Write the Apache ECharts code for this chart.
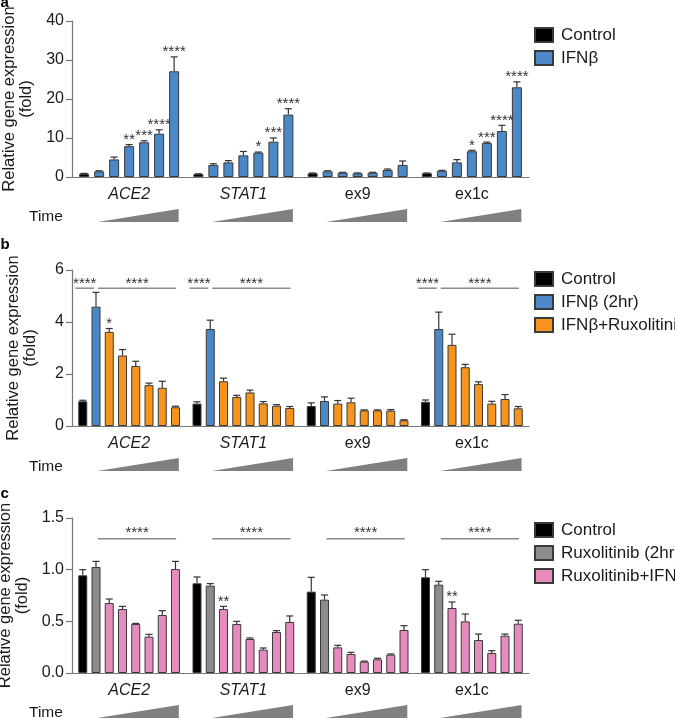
<!DOCTYPE html>
<html><head><meta charset="utf-8">
<script src="https://cdn.jsdelivr.net/npm/echarts@6/dist/echarts.min.js"></script>
<style>html,body{margin:0;padding:0;background:#fff}#c{width:675px;height:721px}</style>
</head><body><div id="c"></div>
<script>
// ---------------- DATA ----------------
const genes = ['ACE2', 'STAT1', 'ex9', 'ex1c'];
const geneItalic = [true, true, false, false];

// Panel a
const aControl    = [0.85, 0.75, 0.95, 0.95];
const aControlErr = [0.08, 0.08, 0.08, 0.08];
const aIFN = [
  [1.45, 4.5, 7.9, 8.9, 11.1, 27.1],
  [3.1, 3.75, 5.55, 6.25, 9.05, 16.0],
  [1.45, 1.1, 0.95, 1.1, 1.8, 3.1],
  [1.6, 3.75, 6.6, 8.7, 11.8, 23.0]
];
const aIFNErr = [
  [0.15, 0.6, 0.4, 0.4, 1.0, 3.7],
  [0.3, 0.45, 1.0, 0.15, 0.95, 1.5],
  [0.15, 0.1, 0.1, 0.1, 0.25, 1.0],
  [0.1, 0.7, 0.25, 0.25, 1.45, 1.4]
];
const aIFNStars = [
  ['', '', '**', '***', '****', '****'],
  ['', '', '', '*', '***', '****'],
  ['', '', '', '', '', ''],
  ['', '', '*', '***', '****', '****']
];

// Panel b
const bControl    = [0.95, 0.86, 0.77, 0.93];
const bControlErr = [0.04, 0.07, 0.12, 0.07];
const bIFN2h      = [4.59, 3.73, 0.96, 3.73];
const bIFN2hErr   = [0.55, 0.34, 0.16, 0.65];
const bRux = [
  [3.62, 2.71, 2.31, 1.57, 1.47, 0.72],
  [1.72, 1.12, 1.29, 0.87, 0.78, 0.69],
  [0.86, 0.91, 0.60, 0.60, 0.59, 0.22],
  [3.12, 2.26, 1.61, 0.86, 1.04, 0.68]
];
const bRuxErr = [
  [0.13, 0.23, 0.18, 0.08, 0.25, 0.04],
  [0.12, 0.06, 0.09, 0.07, 0.04, 0.06],
  [0.12, 0.16, 0.02, 0.02, 0.04, 0.02],
  [0.41, 0.11, 0.09, 0.09, 0.17, 0.07]
];
const bRuxStars = [
  ['*', '', '', '', '', ''],
  ['', '', '', '', '', ''],
  ['', '', '', '', '', ''],
  ['', '', '', '', '', '']
];
const bSigGenes = [0, 1, 3];
const bSigLevel = 5.3;
const bSigLabel = '****';

// Panel c
const cControl    = [0.945, 0.868, 0.787, 0.926];
const cControlErr = [0.055, 0.061, 0.139, 0.074];
const cRux2h      = [1.026, 0.845, 0.71, 0.855];
const cRux2hErr   = [0.054, 0.02, 0.045, 0.032];
const cRuxIFN = [
  [0.677, 0.619, 0.474, 0.352, 0.561, 1.006],
  [0.619, 0.474, 0.329, 0.226, 0.397, 0.494],
  [0.248, 0.184, 0.110, 0.132, 0.177, 0.416],
  [0.629, 0.500, 0.319, 0.194, 0.361, 0.477]
];
const cRuxIFNErr = [
  [0.039, 0.026, 0.006, 0.022, 0.042, 0.074],
  [0.026, 0.026, 0.010, 0.016, 0.013, 0.058],
  [0.020, 0.016, 0.005, 0.010, 0.007, 0.042],
  [0.058, 0.071, 0.058, 0.022, 0.016, 0.033]
];
const cRuxIFNStars = [
  ['', '', '', '', '', ''],
  ['**', '', '', '', '', ''],
  ['', '', '', '', '', ''],
  ['**', '', '', '', '', '']
];
const cSigGenes = [0, 1, 2, 3];
const cSigLevel = 1.3;
const cSigLabel = '****';

const yTicksA = [0, 40, 10];
const yTicksB = [0, 6, 2];
const yTicksC = [0, 1.5, 0.5];

// ---------------- STYLE / LAYOUT ----------------
const FONT = '"Liberation Sans", Arial, Helvetica, sans-serif';
const TXT = '#1a1a1a', AX = '#777777', EDGE = '#3a3a3a', ERR = '#333333', SIG = '#8a8a8a', WEDGE = '#808080';
const C_BLACK = '#000000', C_BLUE = '#4a88c7', C_ORANGE = '#f7941d', C_GRAY = '#8c8c8c', C_PINK = '#e68bbd';
const GRID_LEFT = 72, GRID_W = 457;
const single = arr => arr.map(v => [v]);

const panels = [
  { letter: 'a', top: 21, height: 156, slotPx: 15, barW: 10, nBars: 7, ticks: yTicksA, dec: 0,
    groups: [
      { name: 'Control', color: C_BLACK, start: 0, vals: single(aControl), errs: single(aControlErr), stars: null },
      { name: 'IFNβ', color: C_BLUE, start: 1, vals: aIFN, errs: aIFNErr, stars: aIFNStars }
    ],
    sigGenes: [], sigLevel: 0, sigLabel: '', sigSpans: [], sigStarGap: 5,
    wedge: [0.9, 6.3], legendTop: 26.5, letterY: 3, timeY: 217 },
  { letter: 'b', top: 270, height: 156, slotPx: 13.25, barW: 9, nBars: 8, ticks: yTicksB, dec: 0,
    groups: [
      { name: 'Control', color: C_BLACK, start: 0, vals: single(bControl), errs: single(bControlErr), stars: null },
      { name: 'IFNβ (2hr)', color: C_BLUE, start: 1, vals: single(bIFN2h), errs: single(bIFN2hErr), stars: null },
      { name: 'IFNβ+Ruxolitinib', color: C_ORANGE, start: 2, vals: bRux, errs: bRuxErr, stars: bRuxStars }
    ],
    sigGenes: bSigGenes, sigLevel: bSigLevel, sigLabel: bSigLabel, sigSpans: [[-0.55, 0.85], [1.15, 7.05]], sigStarGap: 4.5,
    wedge: [1.1, 7.25], legendTop: 270.5, letterY: 244.8, timeY: 466.5 },
  { letter: 'c', top: 518, height: 155, slotPx: 13.25, barW: 9, nBars: 8, ticks: yTicksC, dec: 1,
    groups: [
      { name: 'Control', color: C_BLACK, start: 0, vals: single(cControl), errs: single(cControlErr), stars: null },
      { name: 'Ruxolitinib (2hr)', color: C_GRAY, start: 1, vals: single(cRux2h), errs: single(cRux2hErr), stars: null },
      { name: 'Ruxolitinib+IFNβ', color: C_PINK, start: 2, vals: cRuxIFN, errs: cRuxIFNErr, stars: cRuxIFNStars }
    ],
    sigGenes: cSigGenes, sigLevel: cSigLevel, sigLabel: cSigLabel, sigSpans: [[1.15, 7.05]], sigStarGap: 6,
    wedge: [1.1, 7.25], legendTop: 521.5, letterY: 493.8, timeY: 713 }
];

const option = {
  animation: false, backgroundColor: '#ffffff',
  textStyle: { fontFamily: FONT },
  grid: [], xAxis: [], yAxis: [], series: [], legend: [], graphic: []
};

panels.forEach((P, pi) => {
  const G = (GRID_W / 4) / P.slotPx;       // slots per gene group
  const c = (P.nBars - 1) / 2;
  const xv = 2 * pi, xc = 2 * pi + 1;
  option.grid.push({ left: GRID_LEFT, width: GRID_W, top: P.top, height: P.height,
                     containLabel: false, outerBoundsMode: 'none' });
  option.xAxis.push({ type: 'value', gridIndex: pi, min: c - G / 2, max: c + 3.5 * G, show: false });
  option.xAxis.push({
    type: 'category', gridIndex: pi, data: genes, position: 'bottom', boundaryGap: true,
    axisLine: { onZero: false, lineStyle: { color: AX, width: 1.2 } },
    axisTick: { alignWithLabel: true, length: 5, lineStyle: { color: AX, width: 1.2 } },
    axisLabel: {
      margin: 10, color: TXT, fontSize: 16, fontFamily: FONT,
      formatter: (v, i) => geneItalic[i] ? '{i|' + v + '}' : '{n|' + v + '}',
      rich: { i: { fontStyle: 'italic', fontSize: 16, fontFamily: FONT, color: TXT },
              n: { fontSize: 16, fontFamily: FONT, color: TXT } }
    },
    splitLine: { show: false }
  });
  option.yAxis.push({
    type: 'value', gridIndex: pi, min: P.ticks[0], max: P.ticks[1], interval: P.ticks[2],
    axisLine: { show: true, onZero: false, lineStyle: { color: AX, width: 1.2 } },
    axisTick: { show: true, length: 6, lineStyle: { color: AX, width: 1.2 } },
    axisLabel: { color: TXT, fontSize: 16, fontFamily: FONT, margin: 8,
                 formatter: v => Number(v).toFixed(P.dec) },
    splitLine: { show: false },
    name: 'Relative gene expression\n(fold)', nameLocation: 'middle', nameGap: 33,
    nameTextStyle: { color: TXT, fontSize: 16.5, fontFamily: FONT, lineHeight: 17 }
  });

  const errData = [], starData = [], starText = [];
  P.groups.forEach(gr => {
    const data = [];
    genes.forEach((gn, g) => {
      gr.vals[g].forEach((v, k) => {
        const x = g * G + gr.start + k;
        const e = gr.errs[g][k];
        data.push([x, v]);
        errData.push([x, v, e]);
        if (gr.stars && gr.stars[g][k]) { starData.push([x, v + e]); starText.push(gr.stars[g][k]); }
      });
    });
    option.series.push({
      type: 'bar', name: gr.name, xAxisIndex: xv, yAxisIndex: pi, data,
      barWidth: P.barW, barGap: '-100%', silent: true,
      itemStyle: { color: gr.color, borderColor: EDGE, borderWidth: 1 }
    });
  });

  // error bars (upper whiskers)
  option.series.push({
    type: 'custom', name: 'err' + pi, xAxisIndex: xv, yAxisIndex: pi, clip: false, silent: true, z: 3,
    data: errData,
    renderItem: (params, api) => {
      const x = api.value(0), y = api.value(1), e = api.value(2);
      const p0 = api.coord([x, y]), p1 = api.coord([x, y + e]);
      const st = { stroke: ERR, lineWidth: 1.2 };
      return { type: 'group', children: [
        { type: 'line', shape: { x1: p0[0], y1: p0[1], x2: p1[0], y2: p1[1] }, style: st },
        { type: 'line', shape: { x1: p1[0] - 3.5, y1: p1[1], x2: p1[0] + 3.5, y2: p1[1] }, style: st }
      ] };
    }
  });

  // significance stars over bars
  if (starData.length) {
    option.series.push({
      type: 'custom', name: 'stars' + pi, xAxisIndex: xv, yAxisIndex: pi, clip: false, silent: true, z: 4,
      data: starData,
      renderItem: (params, api) => {
        const p = api.coord([api.value(0), api.value(1)]);
        return { type: 'text', x: p[0], y: p[1] - 4.7,
          style: { text: starText[params.dataIndex], fill: '#333', fontSize: 15, fontFamily: FONT,
                   align: 'center', verticalAlign: 'middle' } };
      }
    });
  }

  // significance brackets
  if (P.sigGenes.length) {
    const sigData = [];
    P.sigGenes.forEach(g => P.sigSpans.forEach(s => sigData.push([g * G + s[0], g * G + s[1], P.sigLevel])));
    option.series.push({
      type: 'custom', name: 'sig' + pi, xAxisIndex: xv, yAxisIndex: pi, clip: false, silent: true, z: 4,
      data: sigData,
      renderItem: (params, api) => {
        const a = api.coord([api.value(0), api.value(2)]);
        const b = api.coord([api.value(1), api.value(2)]);
        return { type: 'group', children: [
          { type: 'line', shape: { x1: a[0], y1: a[1], x2: b[0], y2: b[1] }, style: { stroke: SIG, lineWidth: 1.5 } },
          { type: 'text', x: (a[0] + b[0]) / 2, y: a[1] - P.sigStarGap,
            style: { text: P.sigLabel, fill: '#333', fontSize: 15, fontFamily: FONT, align: 'center', verticalAlign: 'middle' } }
        ] };
      }
    });
  }

  // time wedges under each gene group
  option.series.push({
    type: 'custom', name: 'wedge' + pi, xAxisIndex: xv, yAxisIndex: pi, clip: false, silent: true,
    data: genes.map((gn, g) => [g * G + P.wedge[0], g * G + P.wedge[1]]),
    renderItem: (params, api) => {
      const a = api.coord([api.value(0), 0]), b = api.coord([api.value(1), 0]);
      const y0 = a[1];
      return { type: 'polygon', shape: { points: [[a[0], y0 + 45], [b[0], y0 + 32], [b[0], y0 + 45], [a[0], y0 + 45]] },
               style: { fill: WEDGE } };
    }
  });

  option.legend.push({
    data: P.groups.map(g => g.name), orient: 'vertical', left: 534, top: P.legendTop, padding: 0,
    itemWidth: 18, itemHeight: 14, itemGap: 6, icon: 'rect', selectedMode: false,
    textStyle: { color: TXT, fontSize: 17, fontFamily: FONT, lineHeight: 17, padding: [0, 0, 0, 3] }
  });

  option.graphic.push({ type: 'text', x: 0.5, y: P.letterY,
    style: { text: P.letter, fill: '#000', font: 'bold 15px ' + FONT, verticalAlign: 'middle' } });
  option.graphic.push({ type: 'text', x: 29, y: P.timeY,
    style: { text: 'Time', fill: TXT, fontSize: 15.5, fontFamily: FONT, verticalAlign: 'middle' } });
});

const chart = echarts.init(document.getElementById('c'), null, { renderer: 'canvas', width: 675, height: 721 });
chart.setOption(option);
</script>
</body></html>
